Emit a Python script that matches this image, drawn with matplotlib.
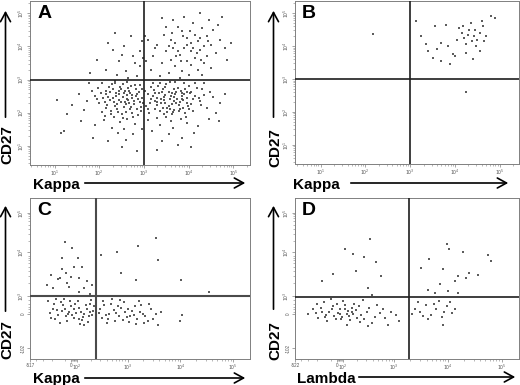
import numpy as np
import matplotlib
matplotlib.use('Agg')
import matplotlib.pyplot as plt
from matplotlib.patches import FancyArrowPatch

plt.rcParams['font.family'] = ['Liberation Sans', 'DejaVu Sans']

# ---------------- data (display units: log10 decades for A/B; biexponential display for C/D) -------------
# Panel A  (Kappa vs CD27), values in log10 units
a_lower_left = [(2.45,2.55),(2.62,2.41),(2.31,2.70),(2.78,2.36),(2.19,2.48),(2.55,2.18),(2.88,2.62),(2.40,2.25),(2.70,2.80),(2.12,2.31),
    (2.95,2.45),(2.58,2.66),(2.27,2.05),(2.84,2.12),(2.36,2.88),(2.66,2.29),(2.03,2.58),(2.50,1.95),(2.91,2.84),(2.74,2.52),
    (2.21,2.77),(2.44,2.38),(1.95,2.42),(2.60,2.03),(2.82,2.71),(2.33,1.86),(2.68,2.59),(2.15,2.15),(2.52,2.85),(2.98,2.28),
    (1.84,2.65),(2.47,1.72),(2.72,2.00),(2.25,2.62),(2.87,1.92),(2.39,2.12),(2.06,2.01),(2.63,1.80),(2.93,2.06),(1.72,2.35),
    (2.28,1.55),(2.56,1.50),(2.80,1.66),(1.66,2.08),(2.10,1.78),(2.42,1.38),(2.75,1.35),(1.90,1.62),(2.60,1.18),(2.95,1.52),
    (1.55,2.55),(1.40,2.22),(1.60,1.75),(1.28,1.95),(1.85,1.25),(2.20,1.15),(2.50,0.95),(1.20,1.45),(2.85,0.85),(2.05,2.88),
    (1.78,2.90),(2.62,2.92),(2.35,2.95),(1.98,2.75),(2.70,2.18),(2.48,2.71),(2.86,2.40),(2.16,2.56),(2.57,2.33),(2.30,2.44),
    (1.05,2.37),(1.15,1.40),
    (2.52,2.46),(2.67,2.64),(2.38,2.58),(2.81,2.50),(2.23,2.38),(2.59,2.26),(2.90,2.33),(2.46,2.78),(2.73,2.44),(2.14,2.66),
    (2.34,2.20),(2.64,2.75),(2.96,2.70),(2.42,2.02),(2.77,2.26),(2.28,2.86),(2.55,2.60),(2.85,2.56),(2.08,2.45),(2.49,2.32),
    (2.69,2.10),(2.18,2.22),(2.93,2.18),(2.37,2.50),(2.61,2.52),(2.80,2.82),(2.26,1.95),(2.54,1.85),(2.00,2.30),(2.44,2.64),
    (1.90,2.50),(2.12,1.90),(2.76,1.88),(2.33,2.32),(2.65,2.38)]
a_lower_right = [(3.10,2.55),(3.25,2.35),(3.42,2.70),(3.55,2.20),(3.68,2.48),(3.80,2.10),(3.95,2.62),(3.35,2.05),(3.50,2.85),(3.72,2.30),
    (3.15,2.78),(3.62,2.60),(3.88,2.38),(4.05,2.25),(3.30,2.45),(3.45,1.95),(3.58,2.40),(3.75,2.75),(3.92,1.98),(4.15,2.50),
    (3.05,2.20),(3.20,2.90),(3.38,2.28),(3.66,2.08),(3.84,2.58),(4.00,2.80),(3.48,2.52),(3.28,1.85),(3.60,1.75),(3.82,1.82),
    (4.10,2.05),(4.25,2.35),(3.12,2.00),(3.40,2.62),(3.70,2.92),(3.97,2.45),(4.30,2.70),(3.52,2.15),(3.22,2.68),(3.78,2.22),
    (4.40,2.15),(4.55,2.48),(4.70,2.30),(4.62,2.00),(4.45,1.82),(3.35,1.62),(3.65,1.55),(3.95,1.70),(4.20,1.60),(3.18,1.45),
    (3.55,1.35),(3.85,1.25),(4.12,1.40),(3.40,1.15),(3.75,1.02),(4.05,0.95),(3.30,0.88),(3.90,2.90),(4.35,2.88),(3.02,2.65),
    (3.08,1.78),(3.45,2.38),(3.62,2.25),(3.88,2.15),(3.25,2.12),(3.58,2.92),(4.18,2.75),(4.48,2.62),(3.70,2.55),(3.95,2.30),
    (4.80,2.55),(4.68,1.75),(3.15,2.42),(3.50,1.88),(4.28,2.22),(3.82,2.65),(3.32,2.80),(3.64,2.02),(4.02,2.58),(3.44,2.48),
    (3.20,2.50),(3.34,2.60),(3.48,2.30),(3.60,2.50),(3.74,2.40),(3.86,2.50),(3.98,2.20),(4.10,2.40),(3.28,2.22),(3.42,2.15),
    (3.56,2.62),(3.68,2.72),(3.80,2.32),(3.92,2.70),(4.06,2.62),(3.14,2.30),(3.38,2.40),(3.52,2.02),(3.66,2.35),(3.78,2.05),
    (3.90,2.55),(4.22,2.45),(3.24,2.58),(3.46,2.78),(3.58,2.10),(3.72,2.62),(3.84,2.42),(4.00,2.10),(4.34,2.52),(3.10,2.12),
    (3.36,2.90),(3.62,1.95),(3.94,1.88),(4.14,2.88),(3.30,2.32)]
a_upper_right = [(3.80,3.75),(4.05,4.10),(4.25,3.90),(3.60,4.20),(3.95,3.55),(4.40,4.30),(3.70,3.40),(4.15,3.65),(3.50,3.85),(4.30,4.55),
    (4.50,4.05),(3.85,4.45),(4.10,4.70),(4.45,4.80),(3.40,3.50),(3.65,3.95),(4.60,3.80),(3.30,4.05),(4.20,3.30),(3.90,4.90),
    (4.70,4.20),(3.55,3.20),(4.00,3.15),(4.35,3.50),(3.20,3.70),(3.75,4.60),(4.55,4.50),(3.45,4.35),(4.80,3.95),(3.15,3.30),
    (3.10,4.20),(4.25,5.00),(3.60,3.60),(4.40,3.70),(3.85,3.25),(4.65,4.65),(3.35,3.10),(4.05,3.85),(3.70,4.10),(4.15,4.35),
    (3.95,4.25),(3.50,4.60),(4.85,3.60),(3.25,3.95),(4.50,3.35),(3.05,3.55),(3.80,3.05),(4.30,3.15),(3.65,4.80),(4.95,4.10),
    (3.02,4.30),(3.40,4.85),(4.75,4.90),(4.20,4.15),(3.90,3.95),
    (3.95,4.05),(4.10,3.95),(4.25,4.25),(3.75,3.85),(4.35,4.00),(3.88,4.30),(4.18,3.80),(4.02,4.45),(3.62,4.40),(4.42,4.15),
    (3.82,3.55),(4.28,3.60),(3.55,4.00),(4.05,3.45),(3.72,3.70)]
a_upper_left = [(2.90,3.40),(2.75,3.70),(2.60,3.25),(2.95,4.15),(2.45,3.55),(2.85,3.10),(2.30,3.90),(2.70,4.30),(2.15,3.30),(2.55,4.00),
    (2.92,3.85),(2.40,3.15),(1.95,3.60),(2.80,3.50),(2.20,4.10),(2.65,3.05),(2.98,3.65),(1.80,3.20),(2.50,3.75),(2.35,4.40)]

# Panel B (Kappa vs CD27), log10 units
b_points = [(4.30,4.35),(4.45,4.50),(4.20,4.25),(4.55,4.40),(4.38,4.15),(4.62,4.60),(4.10,4.55),(4.50,4.20),(4.35,4.70),(4.25,4.05),
    (4.70,4.30),(4.15,4.40),(4.48,4.00),(4.60,4.75),(4.05,4.20),(3.85,4.00),(3.95,3.75),(3.70,4.10),(3.60,3.90),(3.40,3.85),
    (3.25,4.30),(3.12,4.75),(3.55,4.60),(3.80,4.65),(4.00,3.70),(4.40,3.60),(4.80,4.90),(4.90,4.85),(3.50,3.65),(3.90,3.45),
    (4.25,3.80),(3.70,3.55),(4.55,3.85),(4.32,4.48),(4.42,4.30),(4.18,4.62),(2.18,4.38),(4.25,2.62),(3.35,4.05),(4.65,4.15)]

# Panel C (Kappa vs CD27): x in biexponential display units (0 = zero), y in display decades (3 = 10^3)
c_lower_left = [(-0.35,2.70),(-0.25,2.55),(-0.15,2.78),(-0.05,2.62),(0.05,2.48),(0.15,2.72),(0.25,2.58),(0.35,2.80),(-0.30,2.45),(-0.20,2.85),
    (-0.10,2.52),(0.00,2.75),(0.10,2.60),(0.20,2.42),(0.30,2.68),(0.40,2.55),(-0.40,2.60),(-0.28,2.92),(-0.08,2.40),(0.12,2.88),
    (0.22,2.50),(0.32,2.38),(-0.18,2.65),(0.02,2.55),(0.08,2.82),(0.28,2.78),(-0.12,2.70),(0.18,2.62),(0.38,2.90),(-0.38,2.48),
    (-0.22,2.35),(0.42,2.65),(-0.02,2.88),(0.25,2.30),(-0.32,2.82),(0.06,2.68),(0.14,2.45),(0.34,2.52),(-0.06,2.58),(0.44,2.75),
    (-0.44,2.88),(-0.14,2.92),(0.16,2.34),(0.36,2.62),(-0.26,2.66)]
c_lower_right = [(0.55,2.70),(0.65,2.55),(0.75,2.80),(0.85,2.60),(0.95,2.72),(1.05,2.50),(1.15,2.65),(1.25,2.45),(1.35,2.58),(1.45,2.40),
    (0.60,2.88),(0.70,2.45),(0.80,2.66),(0.90,2.52),(1.00,2.85),(1.10,2.38),(1.20,2.75),(1.30,2.62),(1.40,2.52),(1.50,2.68),
    (0.52,2.60),(0.62,2.78),(0.72,2.58),(0.82,2.40),(0.92,2.90),(1.02,2.62),(1.12,2.52),(1.22,2.34),(1.32,2.78),(1.55,2.45),
    (1.65,2.30),(1.60,2.58),(0.68,2.35),(0.88,2.75),(1.08,2.70),(1.18,2.55),(1.28,2.88),(1.38,2.36),(0.58,2.48),(0.98,2.42),
    (1.70,2.62),(2.10,2.55),(2.05,2.40),(1.48,2.80),(0.78,2.92)]
c_upper_left = [(-0.11,4.29),(0.02,4.14),(-0.17,3.90),(0.05,3.69),(-0.39,3.50),(-0.22,3.43),(0.15,3.43),(-0.04,3.21),(0.24,3.19),(-0.45,3.26),
    (-0.25,3.40),(-0.10,3.55),(0.20,3.70),(-0.35,3.20),(0.15,3.10),(0.30,3.35),(0.00,3.45),(0.35,3.05),(-0.08,3.30),(-0.18,3.65),
    (0.40,3.25),(0.12,3.90)]
c_upper_right = [(0.56,3.98),(0.86,4.05),(1.27,4.19),(1.61,4.38),(1.65,3.86),(2.07,3.38),(1.23,3.38),(0.95,3.55),(2.60,3.10)]

# Panel D (Lambda vs CD27): same units as C
d_lower_left = [(-0.40,2.60),(-0.30,2.72),(-0.20,2.55),(-0.10,2.68),(0.00,2.80),(0.10,2.50),(0.20,2.65),(0.30,2.58),(0.40,2.75),(0.50,2.45),
    (-0.35,2.48),(-0.25,2.85),(-0.15,2.62),(-0.05,2.52),(0.05,2.70),(0.15,2.78),(0.25,2.42),(0.35,2.66),(0.45,2.55),(0.55,2.62),
    (-0.45,2.70),(-0.18,2.40),(0.02,2.60),(0.12,2.88),(0.22,2.52),(0.32,2.82),(0.42,2.38),(0.60,2.72),(0.70,2.50),(0.80,2.60),
    (-0.55,2.58),(-0.28,2.62),(-0.08,2.76),(0.08,2.44),(0.18,2.58),(0.28,2.72),(0.38,2.48),(0.65,2.35),(0.90,2.48),(1.00,2.62),
    (1.10,2.55),(1.15,2.40),(0.75,2.78),(0.95,2.30),(-0.12,2.92),(0.18,2.32),(0.48,2.90),(-0.38,2.82),(0.85,2.70),(0.58,2.28),
    (-0.02,2.45),(0.27,2.62),(0.05,2.56),(0.14,2.68),(-0.22,2.50)]
d_lower_right = [(1.45,2.70),(1.55,2.62),(1.65,2.78),(1.75,2.55),(1.85,2.68),(1.95,2.50),(2.05,2.75),(2.15,2.60),(1.50,2.85),(1.70,2.45),
    (1.90,2.88),(2.00,2.62),(2.20,2.70),(1.60,2.52),(1.80,2.80),(1.98,2.30),(2.10,2.85),(1.40,2.58)]
d_upper_right = [(2.04,4.24),(2.09,4.12),(2.35,4.05),(1.71,3.88),(1.56,3.67),(1.98,3.64),(2.81,3.98),(2.86,3.83),(2.26,3.48),(2.62,3.50),
    (2.40,3.43),(1.91,3.29),(2.07,3.12),(2.26,3.07),(1.82,3.07),(2.46,3.55),(2.20,3.35),(1.70,3.15)]
d_upper_left = [(0.61,4.36),(0.15,4.12),(0.29,4.00),(0.51,3.93),(0.72,3.81),(-0.07,3.52),(-0.28,3.36),(0.81,3.48),(0.57,3.19),(0.66,3.02),(0.35,3.60)]

# quadrant gates (display units)
gates = {'A': (3.0, 3.0), 'B': (3.0, 3.0), 'C': (0.47, 3.0), 'D': (1.34, 2.98)}
x_labels = {'A': 'Kappa', 'B': 'Kappa', 'C': 'Kappa', 'D': 'Lambda'}
y_label = 'CD27'
log_ticks = [1, 2, 3, 4, 5]
biex_tick_values_x_c = [-517, 0, 100, 1000, 10000, 100000]
biex_tick_values_x_d = [-522, 0, 100, 1000, 10000, 100000]
cd_ytick_labels = [r'$10^{5}$', r'$10^{4}$', r'$10^{3}$', '0', '-102']
cd_ytick_pos = [4.98, 4.05, 3.0, 2.57, 1.76]

# ---------------- figure ----------------
W, H = 520, 385
fig = plt.figure(figsize=(W / 100, H / 100), dpi=100)


def add_ax(l, t, r, b):
    return fig.add_axes([l / W, 1 - b / H, (r - l) / W, (b - t) / H])


def biex(v, L=116.0, a=0.13):
    v = np.asarray(v, dtype=float)
    av = np.abs(v)
    out = np.where(av < L, a * av / L, a + np.log10(np.maximum(av, 1e-9) / L))
    return np.sign(v) * out


def fmt_pow(v):
    if v == 0:
        return '0'
    if v < 0:
        return str(int(v))
    return r'$10^{%d}$' % int(round(np.log10(v)))


def style_axes(ax):
    for s in ax.spines.values():
        s.set_color('#808080')
        s.set_linewidth(0.7)
    ax.tick_params(which='major', direction='out', length=2.2, width=0.5, color='#808080',
                   labelsize=3.3, labelcolor='#555555', pad=0.8)
    ax.tick_params(which='minor', direction='out', length=1.3, width=0.4, color='#808080')
    for lab in ax.get_yticklabels():
        lab.set_rotation(90)
        lab.set_va('center')


def draw_points(ax, groups):
    for g in groups:
        arr = np.array(g)
        ax.scatter(arr[:, 0], arr[:, 1], s=1.0, c='#4a4a4a', marker='s', linewidths=0, alpha=0.9)


log_minor = [n + np.log10(k) for n in range(0, 6) for k in range(2, 10)]

axes_px = {'A': (30, 1, 250, 165), 'B': (295, 1, 519, 164), 'C': (30, 198, 250, 359), 'D': (295, 198, 519, 359)}
xlims = {'A': (0.45, 5.37), 'B': (0.43, 5.43), 'C': (-0.73, 3.38), 'D': (-0.72, 3.39)}
ylims = {'A': (0.42, 5.37), 'B': (0.42, 5.37), 'C': (1.5, 5.33), 'D': (1.5, 5.33)}
groups = {'A': [a_lower_left, a_lower_right, a_upper_right, a_upper_left],
          'B': [b_points],
          'C': [c_lower_left, c_lower_right, c_upper_left, c_upper_right],
          'D': [d_lower_left, d_lower_right, d_upper_right, d_upper_left]}

for key in ['A', 'B', 'C', 'D']:
    ax = add_ax(*axes_px[key])
    draw_points(ax, groups[key])
    ax.set_xlim(*xlims[key])
    ax.set_ylim(*ylims[key])
    gx, gy = gates[key]
    gate_color = '#1e1e1e' if key in ('A', 'B', 'D') else '#4a4a4a'
    gate_lw = 1.2 if key != 'C' else 1.5
    ax.axvline(gx, color=gate_color, lw=gate_lw, zorder=3)
    ax.axhline(gy, color=gate_color, lw=gate_lw, zorder=3)
    if key in ('A', 'B'):
        ax.set_xticks(log_ticks)
        ax.set_xticklabels([r'$10^{%d}$' % t for t in log_ticks])
        ax.set_yticks(log_ticks)
        ax.set_yticklabels([r'$10^{%d}$' % t for t in log_ticks])
        ax.set_xticks([m for m in log_minor if xlims[key][0] < m < xlims[key][1]], minor=True)
        ax.set_yticks([m for m in log_minor if ylims[key][0] < m < ylims[key][1]], minor=True)
    else:
        xv = biex_tick_values_x_c if key == 'C' else biex_tick_values_x_d
        ax.set_xticks(biex(xv))
        ax.set_xticklabels([fmt_pow(v) for v in xv])
        ax.set_yticks(cd_ytick_pos)
        ax.set_yticklabels(cd_ytick_labels)
        minor_vals = [k * 10 ** n for n in range(2, 5) for k in range(2, 10)] + list(range(10, 100, 15)) \
            + [-100, -200, -300, -400]
        ax.set_xticks(biex(minor_vals), minor=True)
        ax.set_yticks([m for m in log_minor if 3 < m < 5.3] + [2.62, 2.68, 2.74, 2.82, 2.9], minor=True)
    style_axes(ax)
    ax.text(0.032, 0.975, key, transform=ax.transAxes, fontsize=14, fontweight='bold',
            ha='left', va='top', zorder=5)


def ftext(x, y, s, **kw):
    fig.text(x / W, 1 - y / H, s, **kw)


def farrow(x0, y0, x1, y1):
    arr = FancyArrowPatch((x0 / W, 1 - y0 / H), (x1 / W, 1 - y1 / H), transform=fig.transFigure,
                          arrowstyle='->,head_length=0.55,head_width=0.3', mutation_scale=12,
                          lw=1.2, color='black')
    fig.add_artist(arr)


# axis labels and arrows (pixel positions of each panel)
label_pos = {
    'A': dict(cd=(7.5, 145), vy=(120, 8), vx=5.5, xl=(33, 189), hx=(82, 248), hy=183),
    'B': dict(cd=(275.5, 148), vy=(120, 8), vx=273.5, xl=(293, 189), hx=(348, 511), hy=183),
    'C': dict(cd=(7.5, 340), vy=(314, 203), vx=5.5, xl=(33, 383), hx=(82, 248), hy=378),
    'D': dict(cd=(275.5, 341), vy=(312, 203), vx=273.5, xl=(297, 383), hx=(356, 518), hy=377),
}
for key, p in label_pos.items():
    ftext(p['cd'][0], p['cd'][1], y_label, rotation=90, ha='center', va='center',
          fontsize=11, fontweight='bold')
    farrow(p['vx'], p['vy'][0], p['vx'], p['vy'][1])
    ftext(p['xl'][0], p['xl'][1], x_labels[key], ha='left', va='baseline', fontsize=11, fontweight='bold')
    farrow(p['hx'][0], p['hy'], p['hx'][1], p['hy'])

fig.savefig('out.png', dpi=100)
